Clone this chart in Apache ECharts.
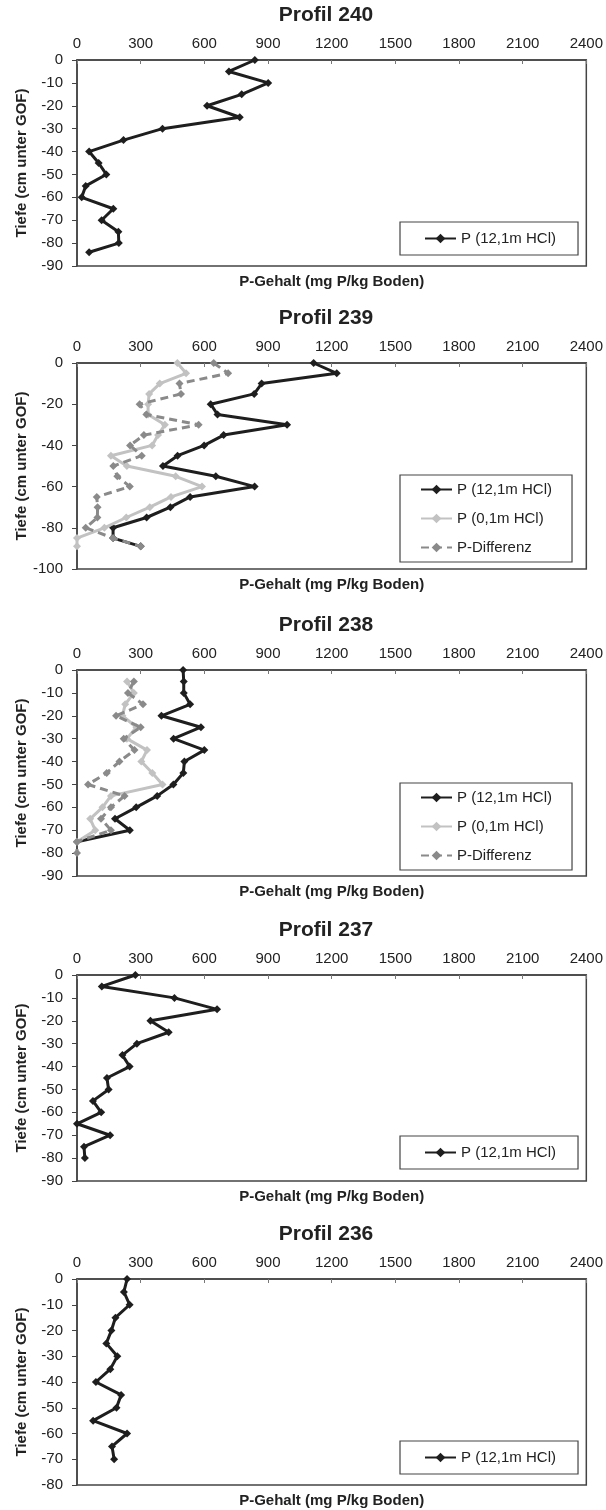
<!DOCTYPE html>
<html>
<head>
<meta charset="utf-8">
<script src="https://cdn.jsdelivr.net/npm/echarts@6/dist/echarts.min.js"></script>
<style>
  body { margin: 0; background: #fff; }
  #main { width: 606px; height: 1510px; }
</style>
</head>
<body>
<div id="main"></div>
<script>
// x ticks (shared by all profiles)
const xTicks = [0, 300, 600, 900, 1200, 1500, 1800, 2100, 2400]

const seriesNames = ['P (12,1m HCl)', 'P (0,1m HCl)', 'P-Differenz']

// Profil 240
const depth240 = [0, -5, -10, -15, -20, -25, -30, -35, -40, -45, -50, -55, -60, -65, -70, -75, -80, -84]
const p240 = [838, 716, 901, 776, 613, 767, 403, 219, 57, 102, 138, 41, 22, 171, 116, 195, 197, 57]

// Profil 239
const depth239 = [0, -5, -10, -15, -20, -25, -30, -35, -40, -45, -50, -55, -60, -65, -70, -75, -80, -85, -89]
const p239 = [1115, 1224, 870, 835, 630, 662, 990, 691, 599, 474, 405, 654, 837, 533, 440, 328, 170, 170, 300]
const p239low = [473, 514, 390, 340, 335, 335, 414, 382, 354, 160, 235, 465, 589, 443, 343, 232, 129, 0, 0]
const p239diff = [644, 712, 483, 490, 295, 327, 573, 315, 250, 305, 171, 190, 249, 93, 97, 96, 41, 170, 300]

// Profil 238
const depth238 = [0, -5, -10, -15, -20, -25, -30, -35, -40, -45, -50, -55, -60, -65, -70, -75]
const p238 = [500, 503, 503, 533, 398, 584, 455, 600, 506, 501, 454, 378, 279, 179, 249, 0]
const depth238low = [-5, -10, -15, -20, -25, -30, -35, -40, -45, -50, -55, -60, -65, -70, -75]
const p238low = [236, 268, 227, 214, 280, 235, 330, 303, 355, 403, 160, 120, 62, 86, 0]
const depth238diff = [-5, -10, -15, -20, -25, -30, -35, -40, -45, -50, -55, -60, -65, -70, -75, -80]
const p238diff = [268, 240, 311, 184, 300, 220, 271, 200, 140, 52, 224, 160, 113, 160, 0, 0]

// Profil 237
const depth237 = [0, -5, -10, -15, -20, -25, -30, -35, -40, -45, -50, -55, -60, -65, -70, -75, -80]
const p237 = [275, 117, 459, 660, 346, 432, 282, 214, 248, 141, 149, 75, 114, 0, 156, 33, 37]

// Profil 236
const depth236 = [0, -5, -10, -15, -20, -25, -30, -35, -40, -45, -50, -55, -60, -65, -70]
const p236 = [236, 221, 248, 181, 162, 138, 190, 157, 89, 208, 186, 76, 236, 165, 175]

const font = 'Liberation Sans, Arial, sans-serif'
const colors = ['#1e1e1e', '#c2c2c2', '#8a8a8a']

function pairs(xs, ys) {
  return xs.map((x, i) => [x, ys[i]])
}

const panels = [
  { title: 'Profil 240', top: 60, yMin: -90, yStep: 10, legendTop: 222,
    lines: [[p240, depth240]] },
  { title: 'Profil 239', top: 363, yMin: -100, yStep: 20, legendTop: 475,
    lines: [[p239, depth239], [p239low, depth239], [p239diff, depth239]] },
  { title: 'Profil 238', top: 670, yMin: -90, yStep: 10, legendTop: 783,
    lines: [[p238, depth238], [p238low, depth238low], [p238diff, depth238diff]] },
  { title: 'Profil 237', top: 975, yMin: -90, yStep: 10, legendTop: 1136,
    lines: [[p237, depth237]] },
  { title: 'Profil 236', top: 1279, yMin: -80, yStep: 10, legendTop: 1441,
    lines: [[p236, depth236]] },
]

const plotLeft = 77
const plotWidth = 512
const plotHeight = 206

var option = {
  backgroundColor: '#fff',
  animation: false,
  textStyle: { fontFamily: font },
  title: [],
  grid: [],
  xAxis: [],
  yAxis: [],
  legend: [],
  series: []
}

panels.forEach((p, i) => {
  option.title.push({
    text: p.title,
    left: 326,
    textAlign: 'center',
    top: p.top - 55,
    padding: 0,
    textStyle: { fontSize: 21, fontWeight: 'bold', color: '#222', fontFamily: font }
  })

  option.grid.push({
    left: plotLeft,
    top: p.top,
    width: plotWidth,
    height: plotHeight,
    show: true,
    borderColor: '#444',
    borderWidth: 1.5,
    backgroundColor: 'transparent'
  })

  // top axis with the tick labels
  option.xAxis.push({
    type: 'value',
    gridIndex: i,
    position: 'top',
    min: xTicks[0],
    max: xTicks[xTicks.length - 1],
    interval: xTicks[1] - xTicks[0],
    splitLine: { show: false },
    axisLine: { show: true, onZero: false, lineStyle: { color: '#444', width: 1.5 } },
    axisTick: { show: true, inside: true, length: 4, lineStyle: { color: '#777' } },
    axisLabel: { fontSize: 15, color: '#222', margin: 9, fontFamily: font,
      formatter: (v) => String(v) }
  })
  // bottom axis only for its name
  option.xAxis.push({
    type: 'value',
    gridIndex: i,
    position: 'bottom',
    min: xTicks[0],
    max: xTicks[xTicks.length - 1],
    name: 'P-Gehalt (mg P/kg Boden)',
    nameLocation: 'middle',
    nameGap: 8,
    nameMoveOverlap: false,
    nameTextStyle: { fontSize: 15, fontWeight: 'bold', color: '#222', fontFamily: font },
    axisLine: { show: false },
    axisTick: { show: false },
    axisLabel: { show: false },
    splitLine: { show: false }
  })

  option.yAxis.push({
    type: 'value',
    gridIndex: i,
    min: p.yMin,
    max: 0,
    interval: p.yStep,
    name: 'Tiefe (cm unter GOF)',
    nameLocation: 'middle',
    nameGap: 48,
    nameMoveOverlap: false,
    nameTextStyle: { fontSize: 15, fontWeight: 'bold', color: '#222', fontFamily: font },
    splitLine: { show: false },
    axisLine: { show: true, onZero: false, lineStyle: { color: '#444', width: 1.5 } },
    axisTick: { show: true, length: 5, lineStyle: { color: '#444' } },
    axisLabel: { fontSize: 15, color: '#222', margin: 14, fontFamily: font }
  })

  const names = []
  p.lines.forEach((ln, k) => {
    const name = seriesNames[k]
    names.push(name)
    option.series.push({
      name: name,
      type: 'line',
      xAxisIndex: i * 2,
      yAxisIndex: i,
      data: pairs(ln[0], ln[1]),
      symbol: 'diamond',
      symbolSize: 8,
      color: colors[k],
      lineStyle: { width: 3, color: colors[k], type: k === 2 ? [8, 5] : 'solid' },
      itemStyle: { color: colors[k] },
      z: 2 + k
    })
  })

  option.legend.push({
    data: names,
    orient: 'vertical',
    left: 400,
    top: p.legendTop,
    padding: names.length > 1 ? [7, 20, 7, 20] : [9, 22, 9, 24],
    itemWidth: 31,
    itemHeight: 12,
    itemGap: 14,
    borderColor: '#444',
    borderWidth: 1.2,
    backgroundColor: '#fff',
    selectedMode: false,
    textStyle: { fontSize: 15, color: '#222', width: names.length > 1 ? 102 : 96, fontFamily: font }
  })
})

var myChart = echarts.init(document.getElementById('main'), null, { renderer: 'canvas' })
option && myChart.setOption(option)
</script>
</body>
</html>
